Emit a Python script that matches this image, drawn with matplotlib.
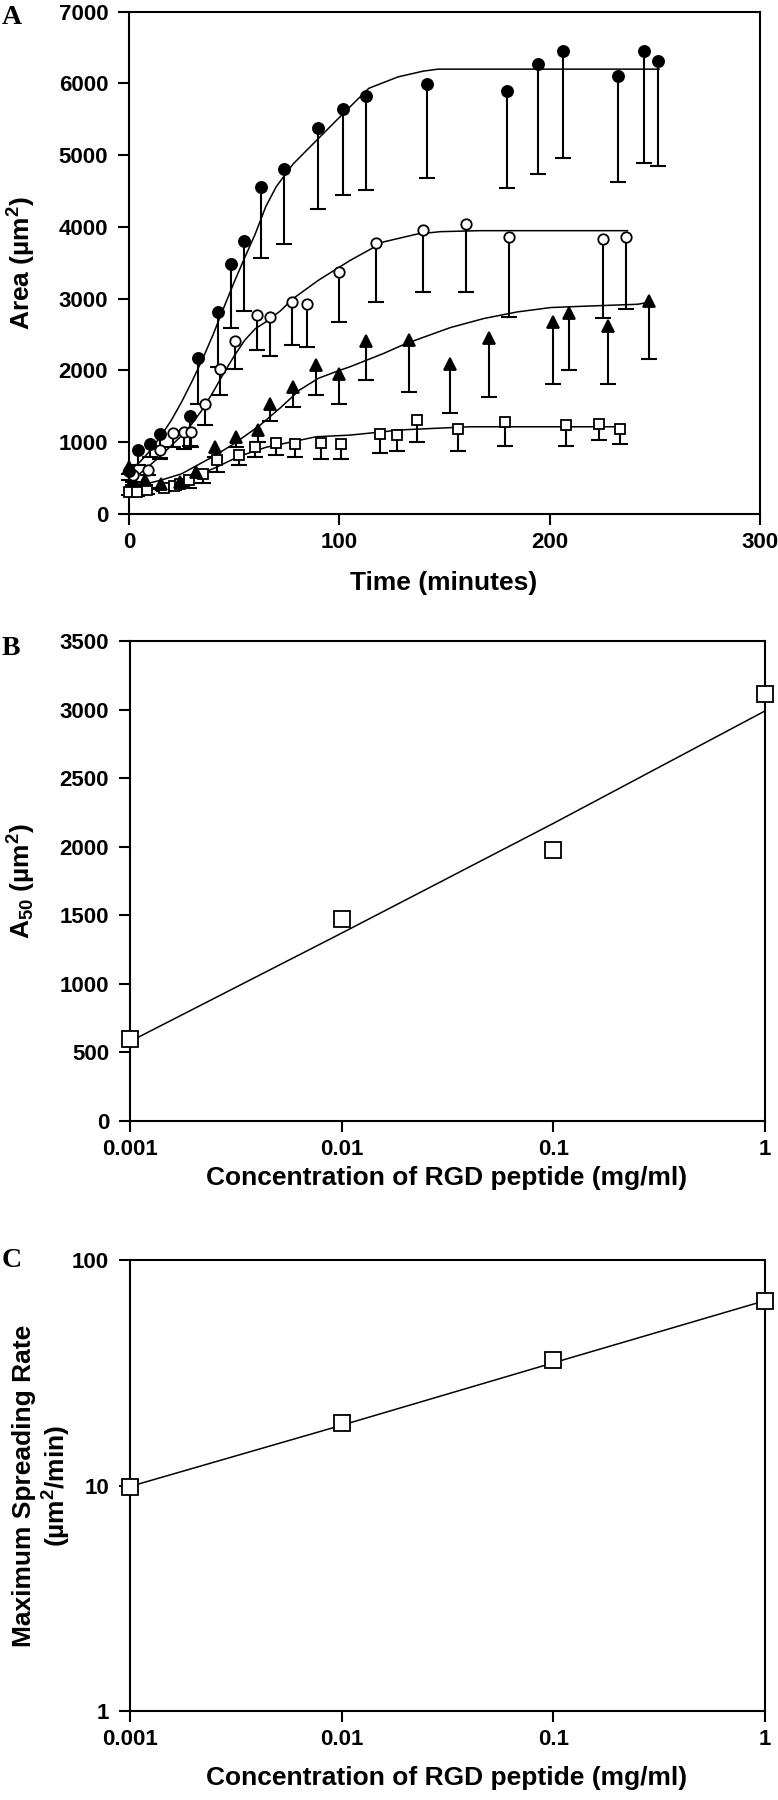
import numpy as np
import matplotlib
matplotlib.use('Agg')
from matplotlib import pyplot as plt

plt.rcParams['font.family'] = ['Liberation Sans', 'DejaVu Sans']
plt.rcParams['font.weight'] = 'bold'
plt.rcParams['mathtext.fontset'] = 'custom'
plt.rcParams['mathtext.bf'] = 'Liberation Sans:bold'
plt.rcParams['mathtext.rm'] = 'Liberation Sans:bold'
plt.rcParams['mathtext.default'] = 'bf'

# Panel A - spreading area vs time (4 RGD concentrations)
# filled circles
fc_t = [0, 4.4, 10, 14.7, 28.9, 32.9, 42.3, 48.7, 54.7, 62.9, 73.6, 89.7, 101.6, 112.6,
        141.7, 179.8, 194.6, 206.5, 232.7, 244.9, 251.3]
fc_v = [600, 890, 970, 1120, 1370, 2180, 2815, 3477, 3807, 4559, 4805, 5371, 5636, 5826,
        5988, 5886, 6267, 6452, 6095, 6452, 6313]
fc_lo = [480, 680, 800, 774, 950, 1539, 2049, 2596, 2823, 3566, 3761, 4248, 4443, 4517,
         4675, 4541, 4735, 4954, 4620, 4889, 4842]
fc_fit_t = [0, 5, 10, 15, 20, 25, 30, 35, 40, 45, 50, 55, 60, 65, 70, 78, 89, 101.6, 114,
            128, 140, 147, 252]
fc_fit_v = [600, 720, 880, 1080, 1300, 1560, 1850, 2160, 2500, 2870, 3230, 3570, 3900, 4280,
            4560, 4875, 5200, 5571, 5930, 6090, 6170, 6197, 6197]

# open circles
oc_t = [2, 9.2, 14.7, 21, 26, 29.3, 36, 43.1, 50.2, 60.8, 67.1, 77.4, 84.5, 100, 117.4,
        139.8, 160.4, 180.8, 225.4, 236.3]
oc_v = [540, 610, 888, 1128, 1146, 1146, 1530, 2013, 2411, 2768, 2745, 2953, 2930, 3370, 3775,
        3960, 4039, 3854, 3826, 3854]
oc_lo = [450, 540, 770, 940, 908, 930, 1245, 1655, 2017, 2281, 2198, 2351, 2327, 2680, 2955,
         3090, 3088, 2746, 2732, 2852]
oc_fit_t = [0, 5, 10, 15, 20, 25, 30, 35, 40, 45, 50, 55, 60, 65, 72, 78, 90, 105, 121, 137,
            148, 167, 237]
oc_fit_v = [430, 560, 680, 810, 950, 1090, 1260, 1460, 1700, 1960, 2200, 2420, 2580, 2675, 2830,
            3000, 3255, 3530, 3790, 3900, 3933, 3947, 3947]

# filled triangles
tr_t = [0, 2, 7.4, 15, 24.2, 31.7, 40.9, 51.1, 61.3, 66.8, 77.9, 88.9, 100, 112.5, 133.1,
        152.4, 171, 201.6, 209, 227.6, 247]
tr_v = [650, 480, 480, 420, 445, 580, 930, 1068, 1170, 1530, 1771, 2073, 1948, 2411, 2430,
        2096, 2458, 2676, 2806, 2616, 2968]
tr_lo = [560, 400, 400, 360, 390, 500, 800, 930, 1000, 1298, 1493, 1655, 1539, 1865, 1702,
         1410, 1628, 1814, 2008, 1814, 2166]
tr_fit_t = [0, 15, 25, 40, 50, 62, 72, 81, 90, 100, 105, 121, 129, 137, 152.8, 168.7, 184.6,
            200.5, 216, 242, 248]
tr_fit_v = [360, 470, 560, 800, 980, 1230, 1480, 1725, 1890, 2000, 2050, 2236, 2340, 2430, 2597,
            2723, 2815, 2876, 2894, 2922, 2955]

# open squares
sq_t = [0, 3.8, 8.7, 16.5, 21.2, 24.4, 28.7, 35, 41.8, 52.3, 60, 70, 78.7, 91.3, 100.8,
        119.2, 127.4, 137, 156.4, 178.7, 207.6, 223.5, 233.5]
sq_v = [310, 300, 332, 365, 390, 412, 470, 555, 755, 820, 930, 992, 969, 983, 974,
        1115, 1099, 1308, 1178, 1285, 1238, 1252, 1178]
sq_lo = [260, 250, 280, 320, 340, 360, 360, 435, 580, 680, 795, 821, 788, 760, 760,
         848, 872, 1006, 872, 951, 951, 1030, 979]
sq_fit_t = [0, 10, 18, 25, 41.5, 52, 65.2, 89, 105, 121, 128, 134, 162, 234]
sq_fit_v = [270, 330, 410, 450, 650, 800, 930, 1076, 1099, 1146, 1169, 1178, 1215, 1215]

# Panel B - A50 vs RGD concentration
conc = [0.001, 0.01, 0.1, 1]
a50 = [600, 1470, 1975, 3110]
a50_fit = [580, 1370, 2170, 2990]

# Panel C - maximum spreading rate vs RGD concentration
rate = [9.8, 19, 36, 66]
rate_fit = [9.9, 18.5, 35, 66]

conc_labels = ['0.001', '0.01', '0.1', '1']

W, H = 778, 1800
fig = plt.figure(figsize=(W / 100, H / 100), dpi=100)


def px_axes(left, right, top, bottom):
    return fig.add_axes([left / W, 1 - bottom / H, (right - left) / W, (bottom - top) / H])


def style_axes(ax):
    for s in ax.spines.values():
        s.set_linewidth(1.5)
    ax.tick_params(which='both', direction='out', length=8, width=1.5, labelsize=16,
                   top=False, right=False)
    ax.tick_params(axis='x', pad=5)
    ax.tick_params(axis='y', pad=7)
    ax.minorticks_off()


def series(ax, t, v, lo, fit_t, fit_v, marker, face, ms):
    ax.plot(fit_t, fit_v, color='black', linewidth=1.1, zorder=2)
    err = [np.array(v) - np.array(lo), np.zeros(len(v))]
    eb = ax.errorbar(t, v, yerr=err, fmt='none', ecolor='black', elinewidth=1.5,
                     capsize=5.5, capthick=1.5, zorder=3, clip_on=False)
    eb[1][1].set_visible(False)  # only the lower caps are drawn
    ax.plot(t, v, linestyle='none', marker=marker, markersize=ms, markerfacecolor=face,
            markeredgecolor='black', markeredgewidth=1.3, zorder=4, clip_on=False)


# ---- Panel A
axA = px_axes(129, 760, 11.5, 514)
series(axA, sq_t, sq_v, sq_lo, sq_fit_t, sq_fit_v, 's', 'white', 7)
series(axA, tr_t, tr_v, tr_lo, tr_fit_t, tr_fit_v, '^', 'black', 9)
series(axA, oc_t, oc_v, oc_lo, oc_fit_t, oc_fit_v, 'o', 'white', 7.5)
series(axA, fc_t, fc_v, fc_lo, fc_fit_t, fc_fit_v, 'o', 'black', 8)
axA.set_xlim(0, 300)
axA.set_ylim(0, 7000)
axA.set_xticks([0, 100, 200, 300])
axA.set_yticks(range(0, 7001, 1000))
style_axes(axA)

# ---- Panel B
axB = px_axes(130, 765, 641, 1121)
axB.plot(conc, a50_fit, color='black', linewidth=1.1, zorder=2)
axB.plot(conc, a50, linestyle='none', marker='s', markersize=11, markerfacecolor='white',
         markeredgecolor='black', markeredgewidth=1.3, zorder=3, clip_on=False)
axB.set_xscale('log')
axB.set_xlim(0.001, 1)
axB.set_ylim(0, 3500)
axB.set_xticks(conc)
axB.set_xticklabels(conc_labels)
axB.set_yticks(range(0, 3501, 500))
style_axes(axB)

# ---- Panel C
axC = px_axes(130, 765, 1260, 1711)
axC.plot(conc, rate_fit, color='black', linewidth=1.1, zorder=2)
axC.plot(conc, rate, linestyle='none', marker='s', markersize=11, markerfacecolor='white',
         markeredgecolor='black', markeredgewidth=1.3, zorder=3, clip_on=False)
axC.set_xscale('log')
axC.set_yscale('log')
axC.set_xlim(0.001, 1)
axC.set_ylim(1, 100)
axC.set_xticks(conc)
axC.set_xticklabels(conc_labels)
axC.set_yticks([1, 10, 100])
axC.set_yticklabels(['1', '10', '100'])
style_axes(axC)

# ---- labels (pixel positions)
lab = dict(fontsize=19, fontweight='bold')
fig.text(444 / W, 1 - 583 / H, 'Time (minutes)', ha='center', va='center', **lab)
fig.text(447 / W, 1 - 1178 / H, 'Concentration of RGD peptide (mg/ml)', ha='center', va='center', **lab)
fig.text(447 / W, 1 - 1778 / H, 'Concentration of RGD peptide (mg/ml)', ha='center', va='center', **lab)

fig.text(22 / W, 1 - 263 / H, 'Area (µm$^2$)', rotation=90, ha='center', va='center', **lab)
fig.text(22 / W, 1 - 881 / H, 'A$_{50}$ (µm$^2$)', rotation=90, ha='center', va='center', **lab)
fig.text(24 / W, 1 - 1486 / H, 'Maximum Spreading Rate', rotation=90, ha='center', va='center', **lab)
fig.text(57 / W, 1 - 1486 / H, '(µm$^2$/min)', rotation=90, ha='center', va='center', **lab)

letter = dict(fontsize=20, fontweight='bold', family='Liberation Serif', ha='left', va='top')
fig.text(2 / W, 1 - 5 / H, 'A', **letter)
fig.text(2 / W, 1 - 636 / H, 'B', **letter)
fig.text(2 / W, 1 - 1248 / H, 'C', **letter)

fig.savefig('out.png', dpi=100)
